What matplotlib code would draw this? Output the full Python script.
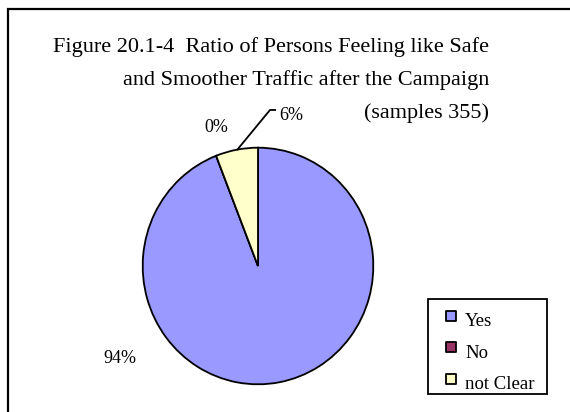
import matplotlib
matplotlib.use("Agg")
import matplotlib.pyplot as plt
from matplotlib.patches import Rectangle

# Survey answers (number of respondents, 355 samples in total)
categories = ["Yes", "No", "not Clear"]
counts = [334, 0, 21]
colors = ["#9999FF", "#993366", "#FFFFCC"]

title_lines = [
    "Figure 20.1-4  Ratio of Persons Feeling like Safe",
    "and Smoother Traffic after the Campaign",
    "(samples 355)",
]

plt.rcParams["font.family"] = ["Liberation Serif", "DejaVu Serif"]

W, H = 570, 412
fig = plt.figure(figsize=(W / 100, H / 100), dpi=100)
fig.patch.set_facecolor("white")

# pie area: centre (258, 266) px, radii 115 x 118 px
cx, cy, rx, ry = 258, 266, 115.3, 118.3
ax = fig.add_axes([(cx - rx) / W, (H - cy - ry) / H, 2 * rx / W, 2 * ry / H])

total = sum(counts)
wedges, _ = ax.pie(
    counts,
    colors=colors,
    startangle=90,
    counterclock=False,
    wedgeprops=dict(edgecolor="black", linewidth=1.3),
)

# square legend keys
keys = [ax.scatter([], [], marker="s", s=55, color=c, edgecolors="black",
                   linewidths=1.3) for c in colors]

ax.set_aspect("auto")
ax.set_xlim(-1, 1)
ax.set_ylim(-1, 1)
ax.axis("off")

pct = [f"{c / total * 100:.0f}%" for c in counts]
lab_kw = dict(fontsize=13, color="black")
ax.text(-1.197, -0.778, pct[0], ha="center", va="center", **lab_kw)
ax.text(-0.364, 1.17, pct[1], ha="center", va="center", **lab_kw)
ax.text(0.18, 1.275, pct[2], ha="left", va="center", **lab_kw)
# leader line for the small slice
ax.plot([-0.182, 0.104, 0.156], [0.98, 1.319, 1.319], color="black",
        lw=1.3, clip_on=False, solid_capstyle="butt")

# title block, right aligned
ty = [47, 80, 113]
for line, y in zip(title_lines, ty):
    fig.text(489 / W, 1 - y / H, line, ha="right", va="center", fontsize=16)

# outer frame
fig.add_artist(Rectangle((7.5 / W, -0.1), 1.2, 1 - 9 / H + 0.1,
                         transform=fig.transFigure, fill=False,
                         edgecolor="black", linewidth=1.6))

# legend entries, with a box drawn around them
leg = fig.legend(
    keys, categories,
    loc="upper left", bbox_to_anchor=(441.6 / W, 1 - 313.3 / H),
    frameon=False, fontsize=13.5, handlelength=1.0, handleheight=0.7,
    handletextpad=0.25, scatterpoints=1, scatteryoffsets=[0.8],
    labelspacing=0.76, borderpad=0, borderaxespad=0,
)
fig.add_artist(Rectangle((428 / W, 1 - 394 / H), 119 / W, 95 / H,
                         transform=fig.transFigure, fill=False,
                         edgecolor="black", linewidth=1.3))

fig.savefig("out.png", dpi=100)
